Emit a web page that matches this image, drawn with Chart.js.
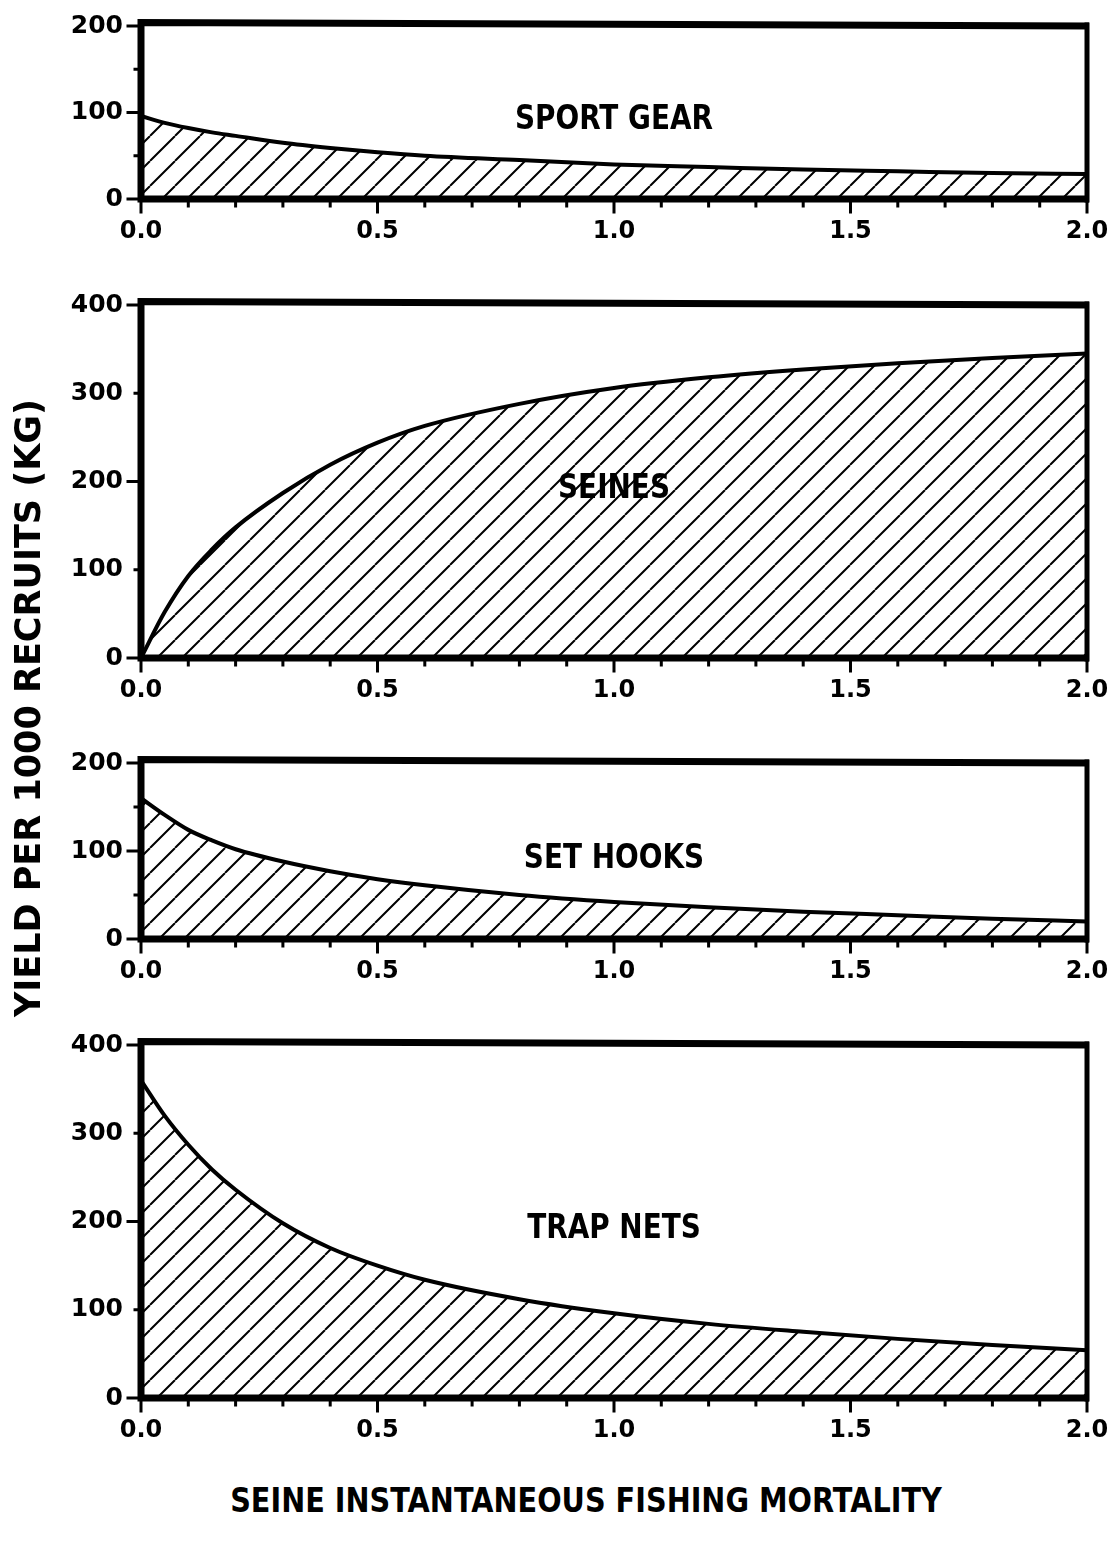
<!DOCTYPE html>
<html>
<head>
<meta charset="utf-8">
<script src="https://cdn.jsdelivr.net/npm/chart.js@4.4.1/dist/chart.umd.min.js"></script>
<style>
  body { margin: 0; background: #fff; width: 1113px; height: 1542px; position: relative; overflow: hidden; font-family: "DejaVu Sans", sans-serif; }
  .panel { position: absolute; left: 0; width: 1113px; }
  #yTitle { position: absolute; left: -322px; top: 687px; width: 700px; height: 42px; line-height: 42px; text-align: center;
            font-size: 35px; font-weight: bold; transform: rotate(-90deg) scaleX(1.0); white-space: nowrap; }
  #xTitle { position: absolute; left: 136px; top: 1479px; width: 900px; height: 42px; line-height: 42px; text-align: center;
            font-size: 34px; font-weight: bold; transform: scaleX(0.845); white-space: nowrap; }
</style>
</head>
<body>
<div class="panel" style="top:11px;height:238px"><canvas id="c0" width="1113" height="238"></canvas></div>
<div class="panel" style="top:290px;height:418px"><canvas id="c1" width="1113" height="418"></canvas></div>
<div class="panel" style="top:748px;height:241px"><canvas id="c2" width="1113" height="241"></canvas></div>
<div class="panel" style="top:1030px;height:418px"><canvas id="c3" width="1113" height="418"></canvas></div>
<div id="yTitle">YIELD PER 1000 RECRUITS (KG)</div>
<div id="xTitle">SEINE INSTANTANEOUS FISHING MORTALITY</div>

<script>
// values
const mortality = [0, 0.05, 0.1, 0.15, 0.2, 0.3, 0.4, 0.5, 0.6, 0.8, 1.0, 1.2, 1.4, 1.6, 1.8, 2.0];
const sportGear = [96, 88, 82, 77, 73, 65, 59, 54, 50, 45, 40, 37, 34, 32, 30, 29];
const seines    = [0, 52, 93, 123, 148, 187, 219, 244, 263, 288, 306, 318, 327, 334, 340, 345];
const setHooks  = [160, 141, 124, 112, 102, 88, 77, 68, 61, 50, 42, 36, 31, 27, 23, 20];
const trapNets  = [360, 320, 287, 259, 236, 198, 170, 150, 134, 112, 96, 84, 75, 67, 60, 54];
const panelTitles = ['SPORT GEAR', 'SEINES', 'SET HOOKS', 'TRAP NETS'];
const panelSeries = [sportGear, seines, setHooks, trapNets];
const yMaxima = [200, 400, 200, 400];
const xTickLabels = ['0.0', '0.5', '1.0', '1.5', '2.0'];

const FONT = "'DejaVu Sans', sans-serif";

function hatchPattern() {
  const s = 25;
  const c = document.createElement('canvas');
  c.width = s; c.height = s;
  const g = c.getContext('2d');
  g.strokeStyle = '#000';
  g.lineWidth = 2;
  g.beginPath();
  for (let k = -1; k <= 1; k++) {
    g.moveTo(k * s, s);
    g.lineTo(k * s + s, 0);
  }
  g.stroke();
  return g.createPattern(c, 'repeat');
}

// frame, tick marks and the panel caption
const framePlugin = {
  id: 'frame',
  afterDatasetsDraw(chart, args, opts) {
    const {ctx, chartArea: a, scales: {x, y}} = chart;
    ctx.save();
    ctx.strokeStyle = '#000';
    ctx.lineCap = 'square';

    ctx.lineWidth = 3;
    ctx.beginPath();
    for (let i = 0; i <= 20; i++) {
      const px = x.getPixelForValue(i / 10);
      ctx.moveTo(px, a.bottom);
      ctx.lineTo(px, a.bottom + (i % 5 === 0 ? 13 : 7));
    }
    const half = opts.yMax / 4;
    for (let i = 0; i <= 4; i++) {
      const py = y.getPixelForValue(i * half);
      ctx.moveTo(a.left, py);
      ctx.lineTo(a.left - (i % 2 === 0 ? 13 : 6), py);
    }
    ctx.stroke();

    ctx.lineCap = 'butt';
    ctx.lineWidth = 7;
    ctx.beginPath();
    ctx.moveTo(a.left, a.bottom + 3.5);
    ctx.lineTo(a.left, a.top - 3.5);
    ctx.lineTo(a.right + 2, a.top);
    ctx.moveTo(a.left, a.bottom);
    ctx.lineTo(a.right + 2, a.bottom);
    ctx.stroke();
    ctx.lineWidth = 5;
    ctx.beginPath();
    ctx.moveTo(a.right, a.top - 3.5);
    ctx.lineTo(a.right, a.bottom + 3.5);
    ctx.stroke();

    ctx.fillStyle = '#000';
    ctx.font = 'bold 34px ' + FONT;
    ctx.textAlign = 'center';
    ctx.textBaseline = 'middle';
    ctx.translate(x.getPixelForValue(1.0), (a.top + a.bottom) / 2 + 8);
    ctx.scale(0.82, 1);
    ctx.fillText(opts.title, 0, 0);
    ctx.restore();
  }
};

function noScalePadding(s) {
  s.paddingLeft = 0; s.paddingRight = 0;
  s.paddingTop = 0; s.paddingBottom = 0;
}

function makePanel(idx) {
  const ctx = document.getElementById('c' + idx).getContext('2d');
  const values = panelSeries[idx];
  return new Chart(ctx, {
    type: 'line',
    data: {
      datasets: [{
        data: mortality.map((m, i) => ({x: m, y: values[i]})),
        borderColor: '#000',
        borderWidth: 4,
        backgroundColor: hatchPattern(),
        fill: 'origin',
        pointRadius: 0,
        cubicInterpolationMode: 'monotone'
      }]
    },
    options: {
      responsive: false,
      animation: false,
      layout: {padding: {top: 15, right: 26, left: 0, bottom: 0}},
      plugins: {
        legend: {display: false},
        tooltip: {enabled: false},
        frame: {title: panelTitles[idx], yMax: yMaxima[idx]}
      },
      scales: {
        x: {
          type: 'linear', min: 0, max: 2,
          grid: {display: false, drawTicks: false},
          border: {display: false},
          afterFit: s => { s.height = 50; noScalePadding(s); },
          ticks: {
            stepSize: 0.5, autoSkip: false, maxRotation: 0, padding: 18, color: '#000',
            font: {family: FONT, size: 24, weight: 'bold'},
            callback: (v) => xTickLabels[Math.round(v * 2)]
          }
        },
        y: {
          min: 0, max: yMaxima[idx],
          grid: {display: false, drawTicks: false},
          border: {display: false},
          afterFit: s => { s.width = 141; noScalePadding(s); },
          ticks: {
            stepSize: 100, padding: 18, color: '#000',
            font: {family: FONT, size: 25, weight: 'bold'}
          }
        }
      }
    },
    plugins: [framePlugin]
  });
}

for (let i = 0; i < 4; i++) makePanel(i);
</script>
</body>
</html>
